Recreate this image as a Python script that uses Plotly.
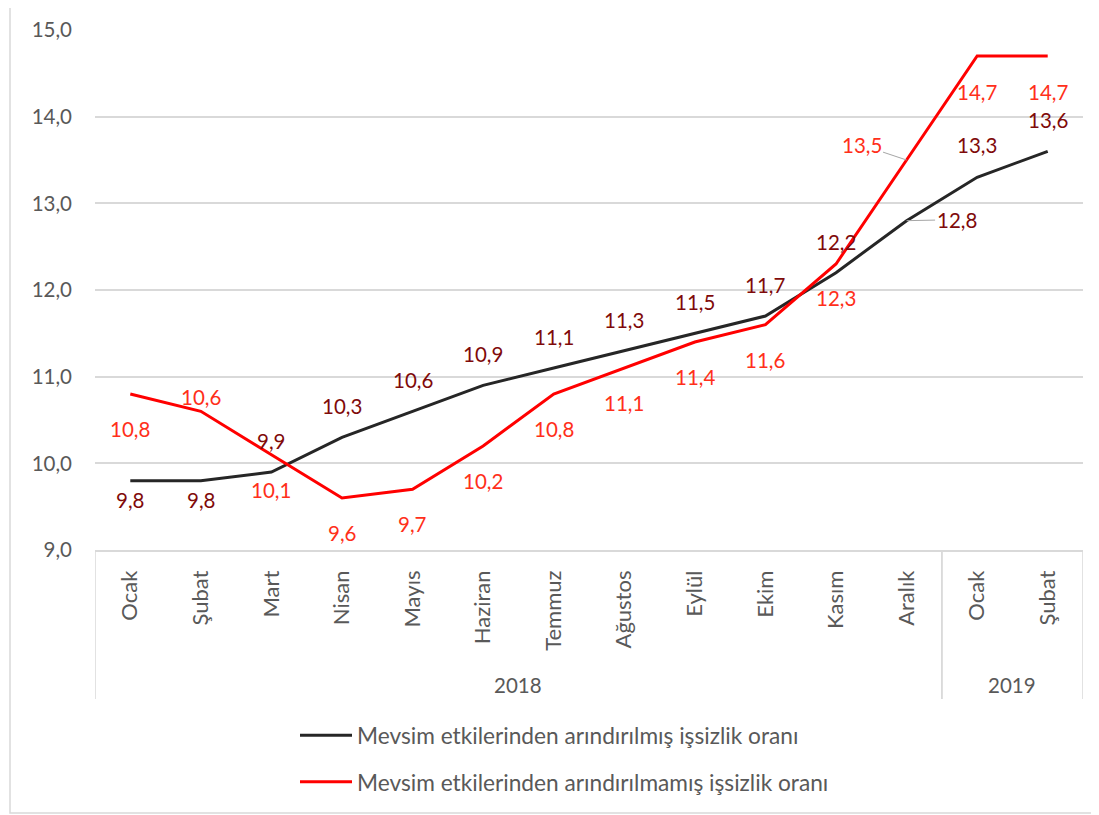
import plotly.graph_objects as go

months = ["Ocak", "Şubat", "Mart", "Nisan", "Mayıs", "Haziran", "Temmuz",
          "Ağustos", "Eylül", "Ekim", "Kasım", "Aralık", "Ocak", "Şubat"]
years = ["2018"] * 12 + ["2019"] * 2
sa_values = [9.8, 9.8, 9.9, 10.3, 10.6, 10.9, 11.1, 11.3, 11.5, 11.7, 12.2, 12.8, 13.3, 13.6]
nsa_values = [10.8, 10.6, 10.1, 9.6, 9.7, 10.2, 10.8, 11.1, 11.4, 11.6, 12.3, 13.5, 14.7, 14.7]
sa_name = "Mevsim etkilerinden arındırılmış işsizlik oranı"
nsa_name = "Mevsim etkilerinden arındırılmamış işsizlik oranı"
y_ticks = [9, 10, 11, 12, 13, 14, 15]

# label placement (style only): (xshift, yshift) in pixels
sa_offsets = [(0, -19), (0, -19), (0, 31), (0, 31), (0, 31), (0, 31), (0, 31),
              (0, 31), (0, 31), (0, 31), (0, 31), None, (0, 32), (0, 31)]
nsa_offsets = [(0, -35), (0, 14), (0, -35), (0, -35), (0, -35), (0, -35), (0, -35),
               (0, -35), (0, -35), (0, -35), (0, -34), None, (0, -36), (0, -36)]

# the page body adds an 8px margin; lay out in reference-pixel terms
OFF = 8
W, H = 1099 - OFF, 815 - OFF
PL, PR, PT, PB = 95, 1083, 30, 550  # plot area in reference pixels
L, T = PL - OFF, PT - OFF
R = W - (PR - OFF)
B = H - (PB - OFF)

FONT = "Lato, 'Open Sans', sans-serif"
NUM = 20.5
TXTSZ = 22
LEGSZ = 22.7
TXT = "#595959"
GRID = "#d9d9d9"
SA_COLOR = "#262626"
NSA_COLOR = "#ff0000"
SA_LBL = "#7f0a0a"
NSA_LBL = "#ff2f1a"

x = list(range(len(months)))

def py(p):
    return (PB - p) / (PB - PT)

def pxp(p):
    return (p - PL) / (PR - PL)

fig = go.Figure()
fig.add_trace(go.Scatter(x=x, y=sa_values, mode="lines", name=sa_name,
                         line=dict(color=SA_COLOR, width=3), legendgroup="a"))
fig.add_trace(go.Scatter(x=x, y=nsa_values, mode="lines", name=nsa_name,
                         line=dict(color=NSA_COLOR, width=3), legendgroup="b"))

ann = []
def fmt(v):
    return f"{v:.1f}".replace(".", ",")

for i, v in enumerate(sa_values):
    off = sa_offsets[i]
    if off is None:
        ann.append(dict(x=i, y=v, xref="x", yref="y", text=fmt(v), showarrow=True,
                        ax=50, ay=-1, arrowhead=0, arrowwidth=1, arrowcolor="#a6a6a6",
                        standoff=0, font=dict(family=FONT, size=NUM, color=SA_LBL)))
    else:
        ann.append(dict(x=i, y=v, xref="x", yref="y", text=fmt(v), showarrow=False,
                        xshift=off[0], yshift=off[1],
                        font=dict(family=FONT, size=NUM, color=SA_LBL)))
for i, v in enumerate(nsa_values):
    off = nsa_offsets[i]
    if off is None:
        ann.append(dict(x=i, y=v, xref="x", yref="y", text=fmt(v), showarrow=True,
                        ax=-45, ay=-15, arrowhead=0, arrowwidth=1, arrowcolor="#a6a6a6",
                        standoff=0, font=dict(family=FONT, size=NUM, color=NSA_LBL)))
    else:
        ann.append(dict(x=i, y=v, xref="x", yref="y", text=fmt(v), showarrow=False,
                        xshift=off[0], yshift=off[1],
                        font=dict(family=FONT, size=NUM, color=NSA_LBL)))

# year group labels and separators
groups = []
for yv in years:
    if yv not in groups:
        groups.append(yv)
shapes = []
y_bottom = py(699)
for g in groups:
    idx = [i for i, yv in enumerate(years) if yv == g]
    ann.append(dict(x=(idx[0] + idx[-1]) / 2, y=py(685), xref="x", yref="paper",
                    text=g, showarrow=False, yanchor="middle",
                    font=dict(family=FONT, size=NUM, color=TXT)))
    for edge in (idx[0] - 0.5, idx[-1] + 0.5):
        shapes.append(dict(type="line", xref="x", yref="paper", x0=edge, x1=edge,
                           y0=0, y1=y_bottom, line=dict(color=GRID, width=1.5)))

# outer chart border
shapes.append(dict(type="rect", xref="paper", yref="paper",
                   x0=pxp(10), x1=pxp(1110), y0=py(813), y1=py(-10),
                   line=dict(color=GRID, width=1.5), layer="below"))

fig.update_layout(
    width=W, height=H,
    margin=dict(l=L, r=R, t=T, b=B, autoexpand=False),
    paper_bgcolor="white", plot_bgcolor="white",
    separators=",.",
    font=dict(family=FONT, size=TXTSZ, color=TXT),
    showlegend=True,
    legend=dict(x=pxp(295), y=py(714), xanchor="left", yanchor="top",
                traceorder="grouped", tracegroupgap=14, itemwidth=52,
                font=dict(family=FONT, size=LEGSZ, color=TXT), bgcolor="rgba(0,0,0,0)"),
    xaxis=dict(range=[-0.5, len(months) - 0.5], tickmode="array", tickvals=x,
               ticktext=months, tickangle=-90, showgrid=False, zeroline=False,
               showline=True, linecolor=GRID, linewidth=1.5, ticks="",
               ticklabelstandoff=10, tickfont=dict(family=FONT, size=TXTSZ, color=TXT)),
    yaxis=dict(range=[9, 15], tickmode="array", tickvals=y_ticks, tickformat=".1f",
               showgrid=True, gridcolor=GRID, gridwidth=1.5, zeroline=False,
               showline=False, ticks="", ticklabelstandoff=22,
               tickfont=dict(family=FONT, size=NUM, color=TXT)),
    annotations=ann,
    shapes=shapes,
)

fig.write_html("out.html")
